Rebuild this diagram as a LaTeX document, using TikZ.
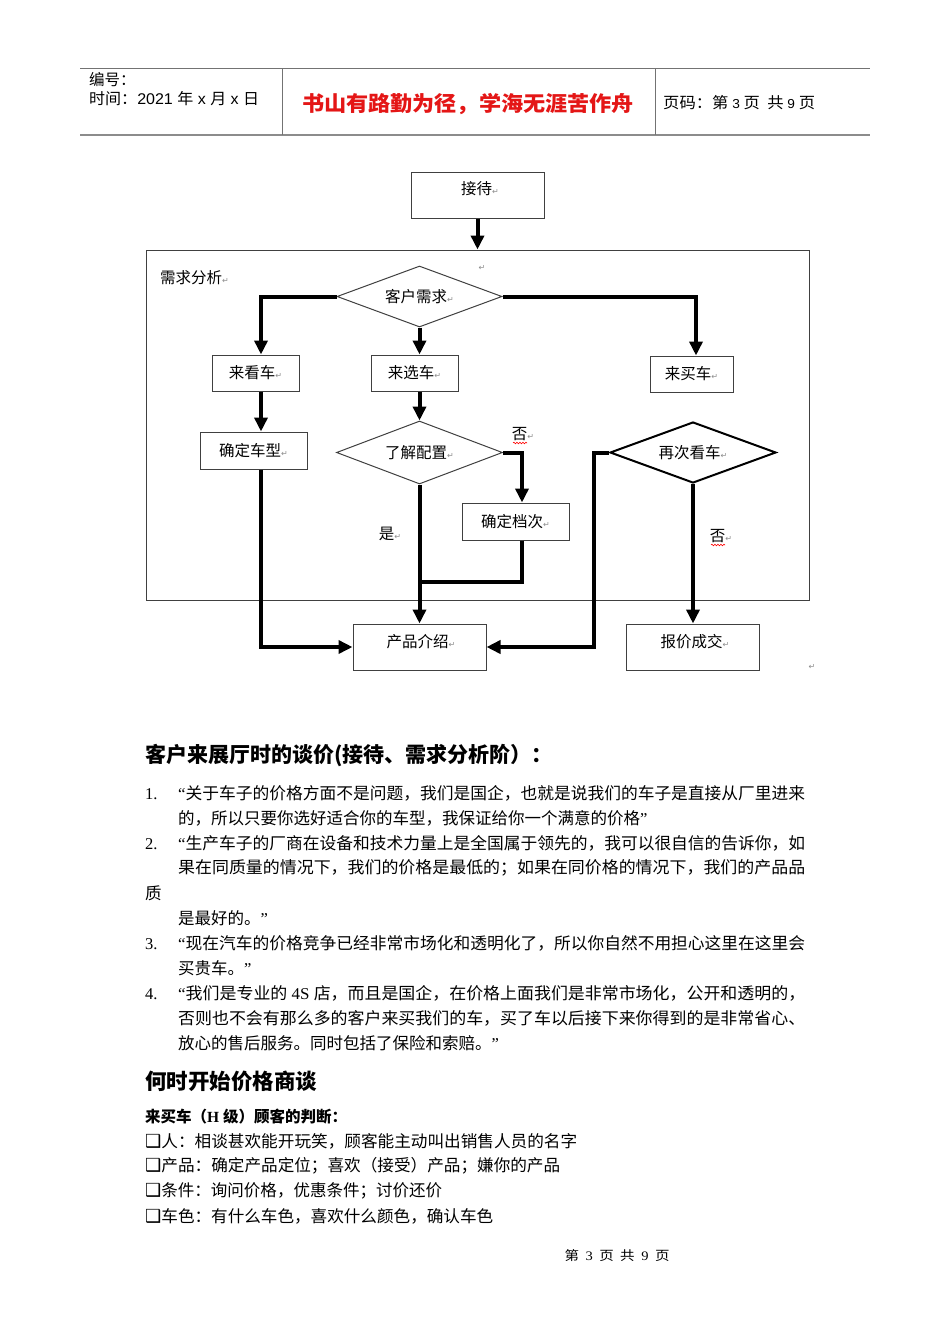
\documentclass[tikz,border=0pt]{standalone}
\usepackage{graphicx}
\usepackage{fontspec}
\setmainfont{Liberation Serif}
\newfontfamily\cjk{Noto Sans CJK SC}
\newfontfamily\lsans{Liberation Sans}
\newfontfamily\djv{DejaVu Sans}
\usetikzlibrary{shapes.geometric,arrows.meta,decorations.pathmorphing}
\definecolor{hdred}{RGB}{228,22,22}
\newcommand\ret{{\djv\color{black!45}\fontsize{8}{8}\selectfont ↵}}
\newcommand\fitw[2]{\resizebox{#1}{\height}{#2}}
\newcommand\myoq{{\rmfamily “}}
\newcommand\mycq{{\rmfamily ”}}
\newcommand\sq{{\djv\fontsize{18}{18}\selectfont ❑}}
\begin{document}
\begin{tikzpicture}[x=1pt,y=-1pt,
  box/.style={draw=black!75, line width=1pt, inner sep=0pt, fill=white},
  dia/.style={diamond, draw=black!75, line width=1pt, inner sep=0pt, aspect=2.7, fill=white},
  lbl/.style={inner sep=0pt, font=\cjk\fontsize{15.5}{15.5}\selectfont},
  arr/.style={line width=4pt, -{Triangle[length=14pt,width=13pt]}},
  ln/.style={line width=4pt},
  body/.style={anchor=west, inner sep=0pt, font=\cjk\fontsize{16.5}{16.5}\selectfont},
  hd/.style={anchor=west, inner sep=0pt, font=\cjk\fontsize{15.5}{15.5}\selectfont},
  wavy/.style={draw=red, line width=0.6pt, decorate, decoration={snake, amplitude=0.8pt, segment length=3pt}}
]
\fill[white] (0,0) rectangle (950,1344);
\useasboundingbox (0,0) rectangle (950,1344);

% ---------- header ----------
\draw[black!55, line width=1pt] (80,68) -- (870,68);
\draw[black!45, line width=2pt] (80,135) -- (870,135);
\draw[black!55, line width=1pt] (282,68) -- (282,135) (655,68) -- (655,135);
\node[hd] (bh) at (89,80) {编号：};
\node[hd] (sj) at (89,99) {\fitw{170pt}{时间：{\lsans 2021 }年{\lsans\ x }月{\lsans\ x }日}};
\node[inner sep=0pt, text=hdred, font=\cjk\bfseries\fontsize{21}{21}\selectfont] (mt) at (468,104) {\fitw{332pt}{书山有路勤为径，学海无涯苦作舟}};
\node[hd] (ym) at (663,103) {\fitw{152pt}{页码：第{\lsans\fontsize{13}{13}\selectfont\ 3 }页\ \ 共{\lsans\fontsize{13}{13}\selectfont\ 9 }页}};

% ---------- flowchart ----------
\node[box, minimum width=663pt, minimum height=350pt] (xq) at (477.5,425) {};
\node[lbl, anchor=west] (xql) at (160,278) {需求分析\ret};
\node[inner sep=0pt] (r1) at (482,268) {\ret};
\node[inner sep=0pt] (r2) at (812,667) {\ret};

\node[box, minimum width=133pt, minimum height=46pt] (jd) at (477.5,195) {};
\node[lbl] (jdl) at (480,189) {接待\ret};

\node[dia, minimum width=165pt, minimum height=61pt] (kh) at (419.5,296.5) {\cjk\fontsize{15.5}{15.5}\selectfont 客户需求\ret};

\node[box, minimum width=87pt, minimum height=36pt, font=\cjk\fontsize{15.5}{15.5}\selectfont] (lk) at (255.5,373) {来看车\ret};
\node[box, minimum width=87pt, minimum height=36pt, font=\cjk\fontsize{15.5}{15.5}\selectfont] (lx) at (414.5,373) {来选车\ret};
\node[box, minimum width=83pt, minimum height=36pt, font=\cjk\fontsize{15.5}{15.5}\selectfont] (lm) at (691.5,374) {来买车\ret};

\node[box, minimum width=107pt, minimum height=37pt, font=\cjk\fontsize{15.5}{15.5}\selectfont] (qc) at (253.5,450.5) {确定车型\ret};
\node[dia, minimum width=166pt, minimum height=63pt] (lj) at (419.5,452.5) {\cjk\fontsize{15.5}{15.5}\selectfont 了解配置\ret};
\node[dia, line width=2pt, draw=black, minimum width=166pt, minimum height=61pt] (zc) at (693,452.5) {\cjk\fontsize{15.5}{15.5}\selectfont 再次看车\ret};
\node[box, minimum width=107pt, minimum height=37pt, font=\cjk\fontsize{15.5}{15.5}\selectfont] (qd) at (515.5,521.5) {确定档次\ret};

\node[box, minimum width=133pt, minimum height=46pt] (cp) at (419.5,647) {};
\node[lbl] (cpl) at (421,642) {产品介绍\ret};
\node[box, minimum width=133pt, minimum height=46pt] (bj) at (693,647) {};
\node[lbl] (bjl) at (695,642) {报价成交\ret};

\node[lbl] (f1) at (523,434) {否\ret};
\draw[wavy] (513,443) -- (527,443);
\node[lbl] (s1) at (390,534) {是\ret};
\node[lbl] (f2) at (721,536) {否\ret};
\draw[wavy] (711,545) -- (725,545);

\coordinate (j1) at (419.5,582);
\coordinate (c2) at (594,452.5);

\draw[arr] (jd.south) -- (jd.south |- xq.north);
\draw[arr] (kh.west) -| ([xshift=5.5pt]lk.north);
\draw[arr] (kh.east) -| ([xshift=4.5pt]lm.north);
\draw[arr] (kh.south) -- (kh.south |- lx.north);
\draw[arr] ([xshift=5.5pt]lk.south) -- ([xshift=7.5pt]qc.north);
\draw[arr] (lx.south -| lj.north) -- (lj.north);
\draw[arr] (lj.east) -| ([xshift=6.5pt]qd.north);
\draw[ln] ([xshift=6.5pt]qd.south) |- (j1);
\draw[arr] (lj.south) -- (cp.north);
\draw[arr] ([xshift=7.5pt]qc.south) |- (cp.west);
\draw[arr] (zc.west) -- (c2) |- (cp.east);
\draw[arr] (zc.south) -- (bj.north);

% ---------- text ----------
\node[anchor=west, inner sep=0pt, font=\cjk\bfseries\fontsize{21}{21}\selectfont] (h1) at (145,756) {客户来展厅时的谈价(接待、需求分析阶）：};

\node[body, font=\rmfamily\fontsize{16.5}{16.5}\selectfont] (n1) at (145,794) {1.};
\node[body] (t1a) at (178,793) {\fitw{627pt}{\myoq 关于车子的价格方面不是问题，我们是国企，也就是说我们的车子是直接从厂里进来}};
\node[body] (t1b) at (178,818) {的，所以只要你选好适合你的车型，我保证给你一个满意的价格\mycq};
\node[body, font=\rmfamily\fontsize{16.5}{16.5}\selectfont] (n2) at (145,844) {2.};
\node[body] (t2a) at (178,843) {\fitw{627pt}{\myoq 生产车子的厂商在设备和技术力量上是全国属于领先的，我可以很自信的告诉你，如}};
\node[body] (t2b) at (178,868) {\fitw{627pt}{果在同质量的情况下，我们的价格是最低的；如果在同价格的情况下，我们的产品品}};
\node[body] (t2c) at (145,893) {质};
\node[body] (t2d) at (178,918) {是最好的。\mycq};
\node[body, font=\rmfamily\fontsize{16.5}{16.5}\selectfont] (n3) at (145,944) {3.};
\node[body] (t3a) at (178,943) {\fitw{627pt}{\myoq 现在汽车的价格竞争已经非常市场化和透明化了，所以你自然不用担心这里在这里会}};
\node[body] (t3b) at (178,968) {买贵车。\mycq};
\node[body, font=\rmfamily\fontsize{16.5}{16.5}\selectfont] (n4) at (145,994) {4.};
\node[body] (t4a) at (178,993) {\fitw{627pt}{\myoq 我们是专业的{\rmfamily\ 4S }店，而且是国企，在价格上面我们是非常市场化，公开和透明的，}};
\node[body] (t4b) at (178,1018) {\fitw{627pt}{否则也不会有那么多的客户来买我们的车，买了车以后接下来你得到的是非常省心、}};
\node[body] (t4c) at (178,1043) {放心的售后服务。同时包括了保险和索赔。\mycq};

\node[anchor=west, inner sep=0pt, font=\cjk\bfseries\fontsize{21.5}{21.5}\selectfont] (h2) at (145,1081) {何时开始价格商谈};
\node[anchor=west, inner sep=0pt, font=\cjk\bfseries\fontsize{15.5}{15.5}\selectfont] (h3) at (145,1117) {来买车（{\rmfamily\bfseries H }级）顾客的判断：};
\node[body] (b1) at (145,1141) {\fitw{432pt}{\sq 人：相谈甚欢能开玩笑，顾客能主动叫出销售人员的名字}};
\node[body] (b2) at (145,1166) {\fitw{415pt}{\sq 产品：确定产品定位；喜欢（接受）产品；嫌你的产品}};
\node[body] (b3) at (145,1191) {\fitw{297pt}{\sq 条件：询问价格，优惠条件；讨价还价}};
\node[body] (b4) at (145,1216) {\fitw{348pt}{\sq 车色：有什么车色，喜欢什么颜色，确认车色}};

\node[inner sep=0pt, font=\cjk\fontsize{13}{13}\selectfont] (ft) at (617,1256) {\fitw{105pt}{第\ \ {\rmfamily 3}\ \ 页\ \ 共\ \ {\rmfamily 9}\ \ 页}};
\end{tikzpicture}
\end{document}
